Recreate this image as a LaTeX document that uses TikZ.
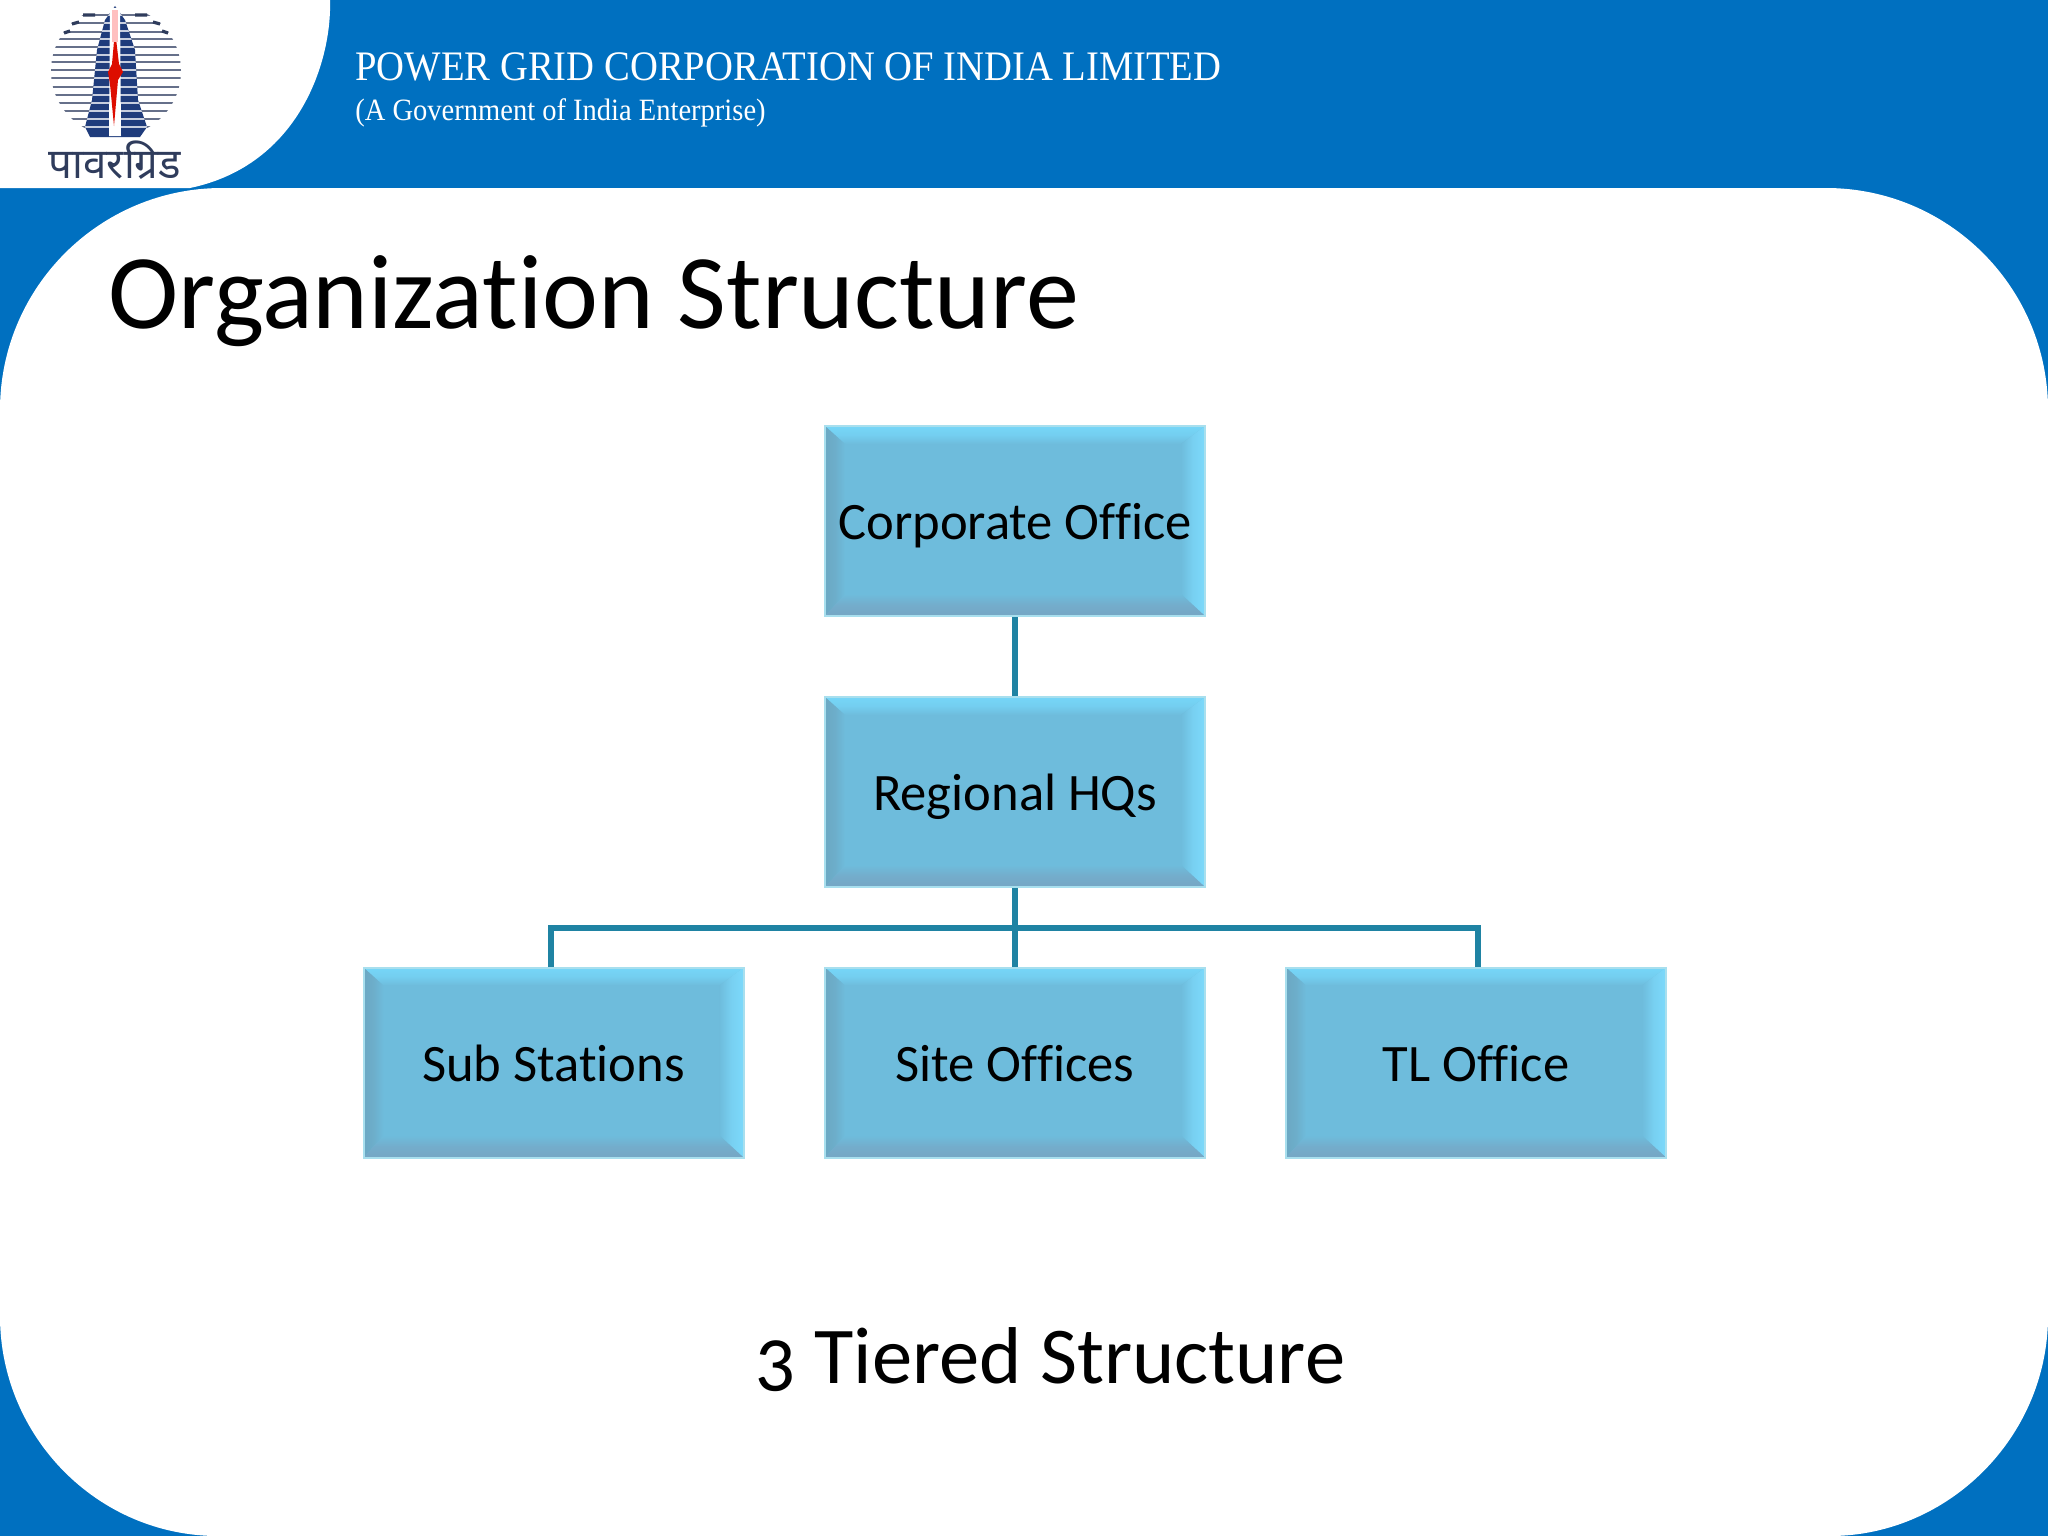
\documentclass[tikz,border=0pt]{standalone}
\usepackage{fontspec}
\setmainfont[Numbers=OldStyle,Ligatures=NoCommon]{Carlito}
\newfontfamily\hdrfont[FakeStretch=0.92]{Liberation Serif}
\newfontfamily\hindi[Script=Devanagari]{Noto Sans}
\usetikzlibrary{calc}
\definecolor{hdrblue}{HTML}{0070C0}
\definecolor{boxmid}{HTML}{6EBCDC}
\definecolor{boxtop}{HTML}{76D6F8}
\definecolor{boxright}{HTML}{7CD9FB}
\definecolor{boxleft}{HTML}{6CA8C3}
\definecolor{boxbottom}{HTML}{76A6C4}
\definecolor{boxedge}{HTML}{A8DFEE}
\definecolor{linkcol}{HTML}{1F83A3}
\definecolor{stripe}{HTML}{66708A}
\definecolor{stripedark}{HTML}{2F3C5C}
\definecolor{tower}{HTML}{1F3C7C}
\tikzset{
  x=0.5pt,y=-0.5pt,
  orgbox/.style={rectangle,draw=boxedge,line width=1pt,fill=boxmid,inner sep=0pt,
    minimum width=190pt,minimum height=95pt,text height=18.6pt,text depth=0pt,
    font=\fontsize{26.3}{30}\selectfont,text=black,
    path picture={
      \coordinate (nw) at (path picture bounding box.north west);
      \coordinate (ne) at (path picture bounding box.north east);
      \coordinate (sw) at (path picture bounding box.south west);
      \coordinate (se) at (path picture bounding box.south east);
      \coordinate (inw) at ($(nw)+(10pt,-9pt)$);
      \coordinate (ine) at ($(ne)+(-12pt,-9pt)$);
      \coordinate (isw) at ($(sw)+(10pt,11pt)$);
      \coordinate (ise) at ($(se)+(-12pt,11pt)$);
      \shade[top color=boxtop,bottom color=boxmid,middle color=boxtop!70!boxmid] (nw)--(ne)--(ine)--(inw)--cycle;
      \shade[left color=boxmid,right color=boxright,middle color=boxright!70!boxmid] (ne)--(se)--(ise)--(ine)--cycle;
      \shade[left color=boxleft,right color=boxmid,middle color=boxleft!70!boxmid] (nw)--(sw)--(isw)--(inw)--cycle;
      \shade[top color=boxmid,bottom color=boxbottom,middle color=boxbottom!70!boxmid] (sw)--(se)--(ise)--(isw)--cycle;
    }},
  linkline/.style={draw=linkcol,line width=2.6pt},
  titletext/.style={anchor=base west,inner sep=0pt,font=\fontsize{53}{57}\selectfont,text=black},
  tiertext/.style={anchor=base west,inner sep=0pt,font=\fontsize{40.3}{44}\selectfont,text=black},
  hdrmain/.style={anchor=base west,inner sep=0pt,text=white,font=\hdrfont\fontsize{21}{24}\selectfont},
  hdrsub/.style={anchor=base west,inner sep=0pt,text=white,font=\hdrfont\fontsize{15.5}{18}\selectfont},
  logotext/.style={inner sep=0pt,text=stripedark,font=\hindi\bfseries\fontsize{21}{24}\selectfont},
}
\begin{document}
\begin{tikzpicture}
\useasboundingbox (0,0) rectangle (2048,1536);
% background
\fill[hdrblue] (0,0) rectangle (2048,1536);
% white slide panel
\fill[white] (0,410) .. controls (0,287) and (100,188) .. (222,188) -- (1826,188)
  .. controls (1948,188) and (2048,287) .. (2048,410) -- (2048,1316)
  .. controls (2048,1437) and (1948,1536) .. (1830,1536) -- (218,1536)
  .. controls (98,1536) and (0,1437) .. (0,1316) -- cycle;
% logo panel
\fill[white] (0,0) -- (330,0) .. controls (332,60) and (300,165) .. (190,188) -- (0,188) -- cycle;
% logo: stripes clipped to circle
\begin{scope}
  \clip (116,71) circle (65);
  \foreach \yy in {15,23,32,39,47,55,62,70,78,87,95,103,111,119,127}
    \draw[stripe,line width=1.4pt] (40,\yy) -- (190,\yy);
\end{scope}
\draw[stripedark,line width=1.6pt] (83,15) -- (95,15) (135,15) -- (147,15)
  (72,24) -- (79,22) (153,22) -- (160,24) (64,33) -- (70,31) (162,31) -- (168,33);
% logo: tower
\begin{scope}
  \clip (115,6) -- (125,20) -- (135,50) -- (138,100) -- (147,127) -- (140,137) -- (90,137) -- (85,127) -- (92,100) -- (97,50) -- (105,20) -- cycle;
  \fill[tower] (80,0) rectangle (150,140);
  \foreach \yy in {15,23,31,39,47,55,62,70,78,87,95,103,111,119,127}
    \draw[white!75!tower,line width=1pt] (80,\yy) -- (150,\yy);
\end{scope}
\fill[white] (110,8) -- (120,8) -- (121,136) -- (109,136) -- cycle;
\fill[red!85!black!90!orange] (115,30) -- (119,64) -- (123,72) -- (118,80) -- (114,126) -- (110,84) -- (108,72) -- (112,64) -- cycle;
\fill[pink] (112,10) -- (118,10) -- (118,42) -- (112,42) -- cycle;
\node[logotext] (logoname) at (115,160) {पावरग्रिड};
% header texts
\node[hdrmain] (hdrone) at (355,81) {POWER GRID CORPORATION OF INDIA LIMITED};
\node[hdrsub] (hdrtwo) at (355,120) {(A Government of India Enterprise)};
% title
\node[titletext] (title) at (108,328) {Organization Structure};
\node[tiertext] (tier) at (755,1383) {3 Tiered Structure};
% boxes
\node[orgbox] (corp) at (1015,521) {Corporate Office};
\node[orgbox] (reg)  at (1015,792) {Regional HQs};
\node[orgbox] (sub)  at (553.5,1062.5) {Sub Stations};
\node[orgbox] (site) at (1015,1062.5) {Site Offices};
\node[orgbox] (tl)   at (1476,1062.5) {TL Office};
% connectors
\coordinate (bus) at (1015,928);
\coordinate (subdrop) at (551,967);
\coordinate (tldrop) at (1478,967);
\draw[linkline] (corp.south) -- (reg.north);
\draw[linkline] (reg.south) -- (site.north);
\draw[linkline,line join=miter] (subdrop) |- (bus) -| (tldrop);
\end{tikzpicture}
\end{document}
